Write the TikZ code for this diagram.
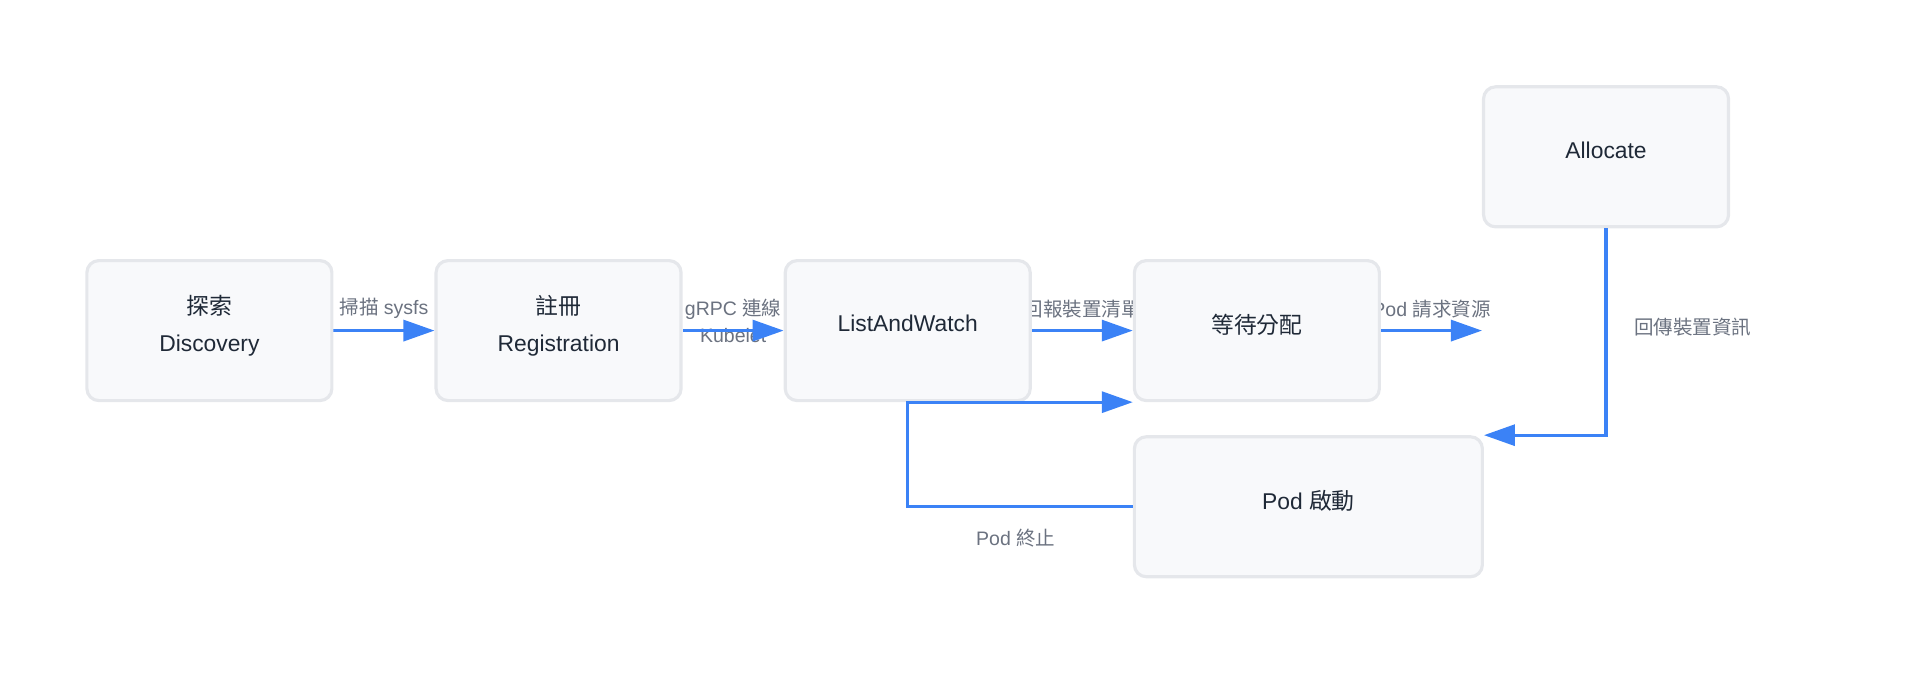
\documentclass[tikz,border=0pt]{standalone}
\usepackage{fontspec}
\setmainfont{Liberation Sans}
\newfontfamily\cjk{Noto Sans CJK TC}
\usetikzlibrary{arrows.meta, positioning, calc, backgrounds}
\definecolor{sblue}{HTML}{3B82F6}
\definecolor{sline}{HTML}{E5E7EB}
\definecolor{sfill}{HTML}{F8F9FB}
\definecolor{sink}{HTML}{1F2937}
\definecolor{smuted}{HTML}{6B7280}
\tikzset{
  box/.style={
    draw=sline, fill=sfill, line width=0.9pt,
    rounded corners=3.4pt, align=center, inner sep=0pt, text=sink,
    minimum width=2.45cm, minimum height=1.40cm, text depth=4pt,
    font=\fontsize{6.5}{10.6}\selectfont
  },
  flow/.style={-{Triangle[length=3.1mm,width=2.1mm]}, line width=0.9pt, draw=sblue},
  lab/.style={font=\fontsize{5.55}{7.7}\selectfont, text=smuted, inner sep=1pt, align=center}
}
\begin{document}
\begin{tikzpicture}[node distance=1.01cm]
  \useasboundingbox (0,0) rectangle (19.2,6.99);
  \node[box] (disc) at (2.094,3.684) {{\cjk 探索}\\Discovery};
  \node[box,right=of disc] (reg) {{\cjk 註冊}\\Registration};
  \node[box,right=of reg] (law) {ListAndWatch};
  \node[box,right=of law] (wait) {{\cjk 等待分配}};
  \node[box,above right=0.306cm and 1.01cm of wait] (alloc) {Allocate};
  \node[box,minimum width=3.48cm,below=0.33cm of wait.south west,anchor=north west] (pod)
    {Pod {\cjk 啟動}};
  \coordinate (ask) at (wait.east -| alloc.west);
  \begin{scope}[on background layer]
    \draw[flow] (disc) -- node[lab,above=2pt] {{\cjk 掃描} sysfs} (reg);
    \node[lab,yshift=1mm] (grpc) at ($(reg.east)!0.5!(law.west)$) {gRPC {\cjk 連線}\\Kubelet};
    \draw[flow] (reg) -- (law);
    \draw[flow] (law) -- node[lab,above=2pt] {{\cjk 回報裝置清單}} (wait);
    \draw[flow] (wait) -- node[lab,above=2pt] {Pod {\cjk 請求資源}} (ask);
  \end{scope}
  \draw[flow] (alloc.south) |- node[lab,right=6.5pt,pos=0.238] {{\cjk 回傳裝置資訊}} (pod.north east);
  \draw[flow] (pod.west) -| node[lab,below=5pt,pos=0.26] {Pod {\cjk 終止}} (law.south) -- (wait.south west);
\end{tikzpicture}
\end{document}
